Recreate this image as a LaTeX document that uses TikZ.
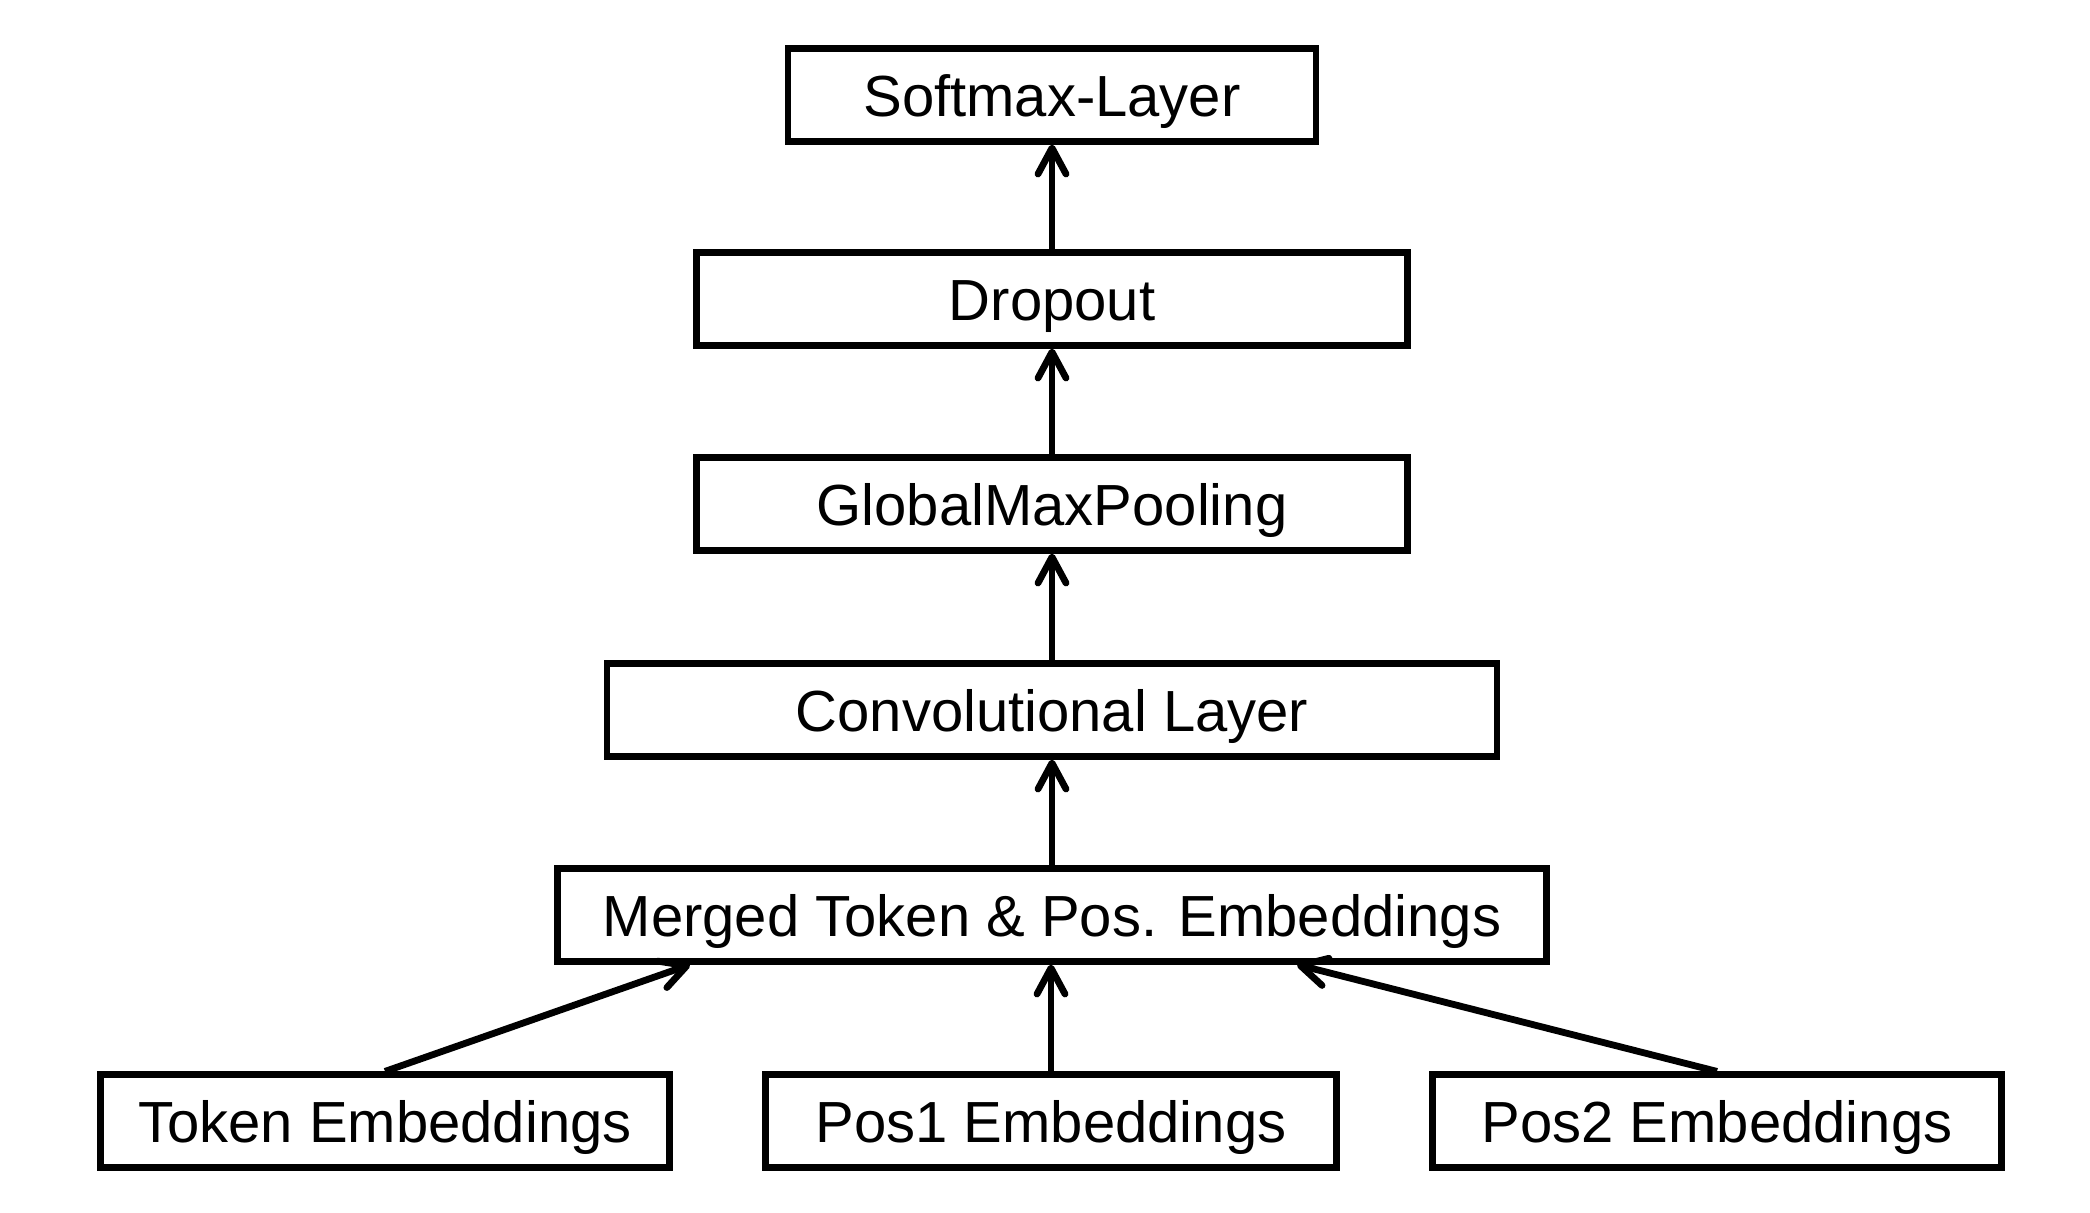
\documentclass[tikz,border=0pt]{standalone}
\usepackage{fontspec}
\setmainfont{Liberation Sans}
\usetikzlibrary{arrows.meta,positioning}
\begin{document}
\begin{tikzpicture}[x=0.5pt,y=-0.5pt,
  layer/.style={draw=black, line width=3.1pt, fill=white, inner sep=0pt,
    minimum height=46.5pt, text height=21pt, text depth=0pt,
    font=\fontsize{29pt}{34pt}\selectfont},
  conn/.style={line width=3.4pt, -{Straight Barb[length=13pt,width=14pt,round]}}]
\useasboundingbox (0,0) rectangle (2090,1212);
\node[layer, minimum width=264pt]   (soft)   at (1052,95)   {Softmax-Layer};
\node[layer, minimum width=355.5pt] (drop)   at (1052,299)  {Dropout};
\node[layer, minimum width=355.5pt] (gmp)    at (1052,504)  {GlobalMaxPooling};
\node[layer, minimum width=445pt]   (conv)   at (1052,710)  {Convolutional Layer};
\node[layer, minimum width=494.5pt] (merged) at (1052,915)  {Merged Token \& Pos. Embeddings};
\node[layer, minimum width=284.5pt] (token)  at (385,1121)  {Token Embeddings};
\node[layer, minimum width=285.5pt] (pos1)   at (1051,1121) {Pos1 Embeddings};
\node[layer, minimum width=284.5pt] (pos2)   at (1717,1121) {Pos2 Embeddings};
\draw[conn] (drop.north) -- (soft.south);
\draw[conn] (gmp.north) -- (drop.south);
\draw[conn] (conv.north) -- (gmp.south);
\draw[conn] (merged.north) -- (conv.south);
\draw[conn] (pos1.north) -- (pos1.north |- merged.south);
\draw[conn] (token.north) -- ([xshift=-181pt]merged.south);
\draw[conn] (pos2.north) -- ([xshift=122.5pt]merged.south);
\end{tikzpicture}
\end{document}
